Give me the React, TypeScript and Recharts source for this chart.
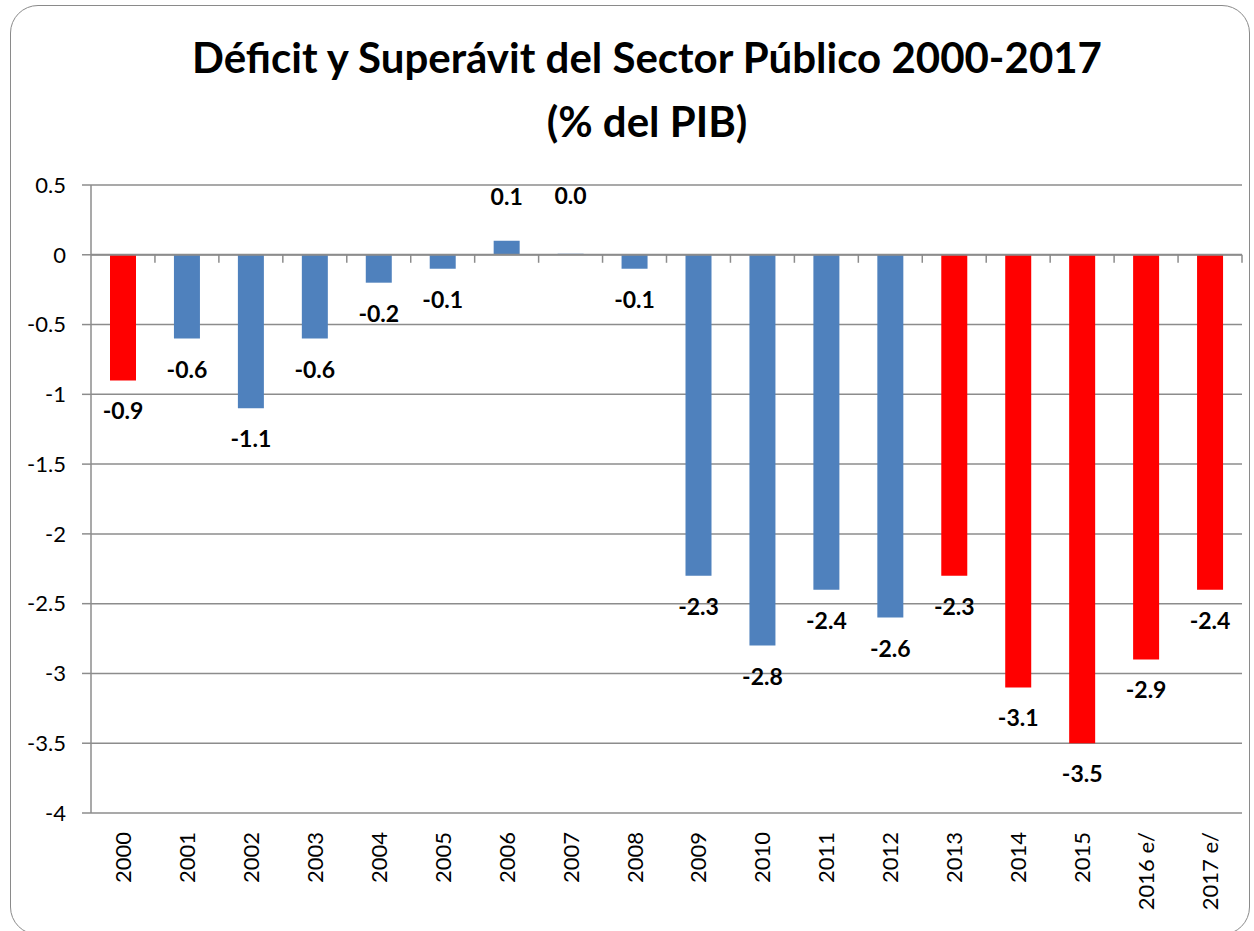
import { BarChart, Bar, XAxis, YAxis, CartesianGrid, ReferenceLine, LabelList, Cell } from "recharts";

const years = ["2000", "2001", "2002", "2003", "2004", "2005", "2006", "2007", "2008", "2009", "2010", "2011", "2012", "2013", "2014", "2015", "2016 e/", "2017 e/"];
const balance = [-0.9, -0.6, -1.1, -0.6, -0.2, -0.1, 0.1, 0.0, -0.1, -2.3, -2.8, -2.4, -2.6, -2.3, -3.1, -3.5, -2.9, -2.4];
const highlighted = ["2000", "2013", "2014", "2015", "2016 e/", "2017 e/"];
const yTicks = [-4, -3.5, -3, -2.5, -2, -1.5, -1, -0.5, 0, 0.5];

const data = years.map((year, i) => ({ year, value: balance[i] }));

const FONT = "Lato, 'Open Sans', sans-serif";
const GRID = "#8c8c8c";

function YearTick(props: any) {
    const { x, y, payload } = props;
    return (
        <text
            transform={`translate(${x + 8}, ${y + 19}) rotate(-90)`}
            textAnchor="end"
            fontFamily={FONT}
            fontSize={22}
            fill="#000"
        >
            {payload.value}
        </text>
    );
}

function ValueLabel(props: any) {
    const vb = props.viewBox || props;
    const { x, y, width, height } = vb;
    const value = Number(props.value);
    const top = Math.min(y, y + height);
    const bottom = Math.max(y, y + height);
    // negative bars: label under the bar end; others: above the zero line
    const ty = value < 0 ? bottom + 39 : (value === 0 ? top : bottom) - 50;
    return (
        <text x={x + width / 2} y={ty} textAnchor="middle" fontFamily={FONT} fontWeight={700} fontSize={23} fill="#000">
            {value.toFixed(1)}
        </text>
    );
}

function ZeroAxis(props: any) {
    const { x1, y1, x2 } = props;
    const step = (x2 - x1) / years.length;
    return (
        <g>
            <line x1={x1} y1={y1} x2={x2} y2={y1} stroke={GRID} strokeWidth={2} />
            {years.map((_, i) => (
                <line key={i} x1={x1 + step * (i + 1)} y1={y1} x2={x1 + step * (i + 1)} y2={y1 + 8} stroke={GRID} strokeWidth={1.5} />
            ))}
        </g>
    );
}

export default function App() {
    return (
        <div style={{ position: "relative", width: 1254, height: 931, overflow: "hidden", background: "#fff" }}>
            <style>{`body{margin:0}`}</style>
            <div
                style={{
                    position: "absolute",
                    left: 10,
                    top: 5,
                    width: 1240,
                    height: 930,
                    border: "1.5px solid #8a8a8a",
                    borderRadius: 28,
                    boxSizing: "border-box",
                }}
            />
            <div style={{ position: "absolute", left: 0, width: 1294, textAlign: "center", top: 31.5, fontFamily: FONT, fontWeight: 700, fontSize: 42, lineHeight: "50px" }}>
                Déficit y Superávit del Sector Público 2000-2017
            </div>
            <div style={{ position: "absolute", left: 0, width: 1294, textAlign: "center", top: 95.5, fontFamily: FONT, fontWeight: 700, fontSize: 42, lineHeight: "50px" }}>
                (% del PIB)
            </div>
            <div style={{ position: "absolute", left: 0, top: 0 }}>
                <BarChart width={1254} height={931} data={data} margin={{ top: 185, right: 12, left: 0, bottom: 8 }}>
                    <CartesianGrid vertical={false} stroke={GRID} strokeWidth={1.5} />
                    <XAxis
                        dataKey="year"
                        axisLine={false}
                        tickLine={false}
                        tickSize={0}
                        tickMargin={0}
                        interval={0}
                        height={110}
                        tick={<YearTick />}
                    />
                    <YAxis
                        domain={[-4, 0.5]}
                        ticks={yTicks}
                        width={91}
                        axisLine={{ stroke: GRID, strokeWidth: 1.5 }}
                        tickLine={{ stroke: GRID, strokeWidth: 1.5 }}
                        tickSize={9}
                        tickMargin={16}
                        tick={{ fontFamily: FONT, fontSize: 22, fill: "#000" }}
                        allowDataOverflow
                    />
                    <Bar dataKey="value" barSize={26} minPointSize={1} isAnimationActive={false}>
                        {data.map((d) => (
                            <Cell key={d.year} fill={highlighted.includes(d.year) ? "#ff0000" : "#4f81bd"} />
                        ))}
                        <LabelList dataKey="value" content={<ValueLabel />} />
                    </Bar>
                    <ReferenceLine y={0} shape={<ZeroAxis />} />
                </BarChart>
            </div>
        </div>
    );
}
